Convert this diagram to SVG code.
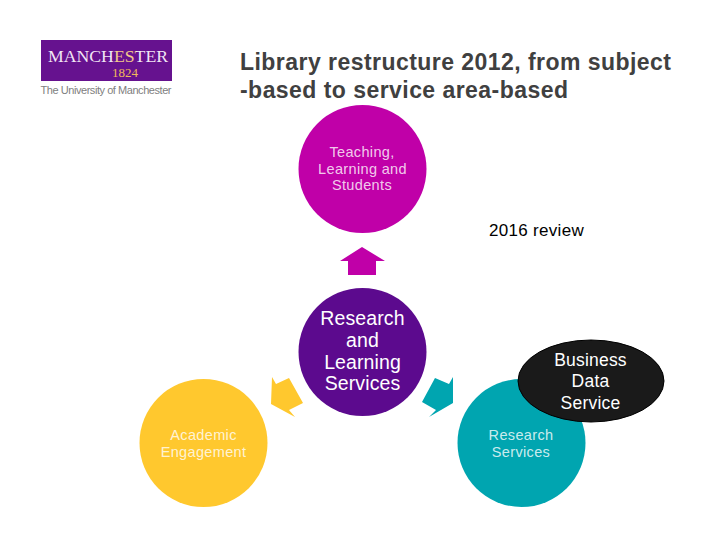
<svg xmlns="http://www.w3.org/2000/svg" width="720" height="540" viewBox="0 0 720 540">
<defs>
<linearGradient id="crest" gradientUnits="userSpaceOnUse" x1="48" y1="0" x2="168" y2="0">
<stop offset="0.56" stop-color="#f1e8f5"/><stop offset="0.56" stop-color="#f3c98a"/>
<stop offset="0.73" stop-color="#f3c98a"/><stop offset="0.73" stop-color="#f1e8f5"/>
</linearGradient>
</defs>
<style>
text{font-family:"Liberation Sans",Arial,sans-serif;text-anchor:middle}
.t{font-size:23px;font-weight:bold;fill:#404040;text-anchor:start}
.s{font-size:14.5px;fill:#fff;fill-opacity:.8;letter-spacing:.35px}
.m{font-size:19.5px;fill:#fff;letter-spacing:.1px}
.b{font-size:17.5px;fill:#fff;letter-spacing:.2px}
.serif{font-family:"Liberation Serif",serif}
</style>
<rect width="720" height="540" fill="#fff"/>
<g id="logo">
<rect x="41" y="40" width="131" height="41" fill="#66128f"/>
<text class="serif" x="108" y="62" font-size="17" fill="url(#crest)" textLength="120" lengthAdjust="spacingAndGlyphs">MANCHESTER</text>
<text class="serif" x="125" y="77" font-size="12.500" fill="#f0b95a" textLength="26" lengthAdjust="spacingAndGlyphs">1824</text>
<text x="106" y="94" font-size="11" fill="#808080" textLength="131">The University of Manchester</text>
</g>
<g id="title">
<text class="t" x="240" y="70" textLength="431">Library restructure 2012, from subject</text>
<text class="t" x="240" y="98" textLength="328">-based to service area-based</text>
</g>
<g id="connectors">
<polygon fill="#c000a8" points="362,247 340,261 348,261 348,275 376,275 376,261 385,261"/>
<polygon fill="#ffc82e" points="272,377 276,384 289,378 303,403 289,410 295,417 271,404"/>
<polygon fill="#00a5b0" points="453,377 449,384 435,378 422,402 436,410 429,417 453,403"/>
</g>
<g id="teaching">
<circle cx="362.500" cy="169" r="64" fill="#c000a8"/>
<text class="s" x="362" y="157">Teaching,</text>
<text class="s" x="362.500" y="174">Learning and</text>
<text class="s" x="362" y="190">Students</text>
</g>
<g id="review"><text x="536.500" y="236" font-size="17" fill="#000" letter-spacing=".3">2016 review</text></g>
<g id="research-learning">
<circle cx="362.500" cy="352" r="64" fill="#5c0a8e"/>
<text class="m" x="362.500" y="325">Research</text>
<text class="m" x="362.500" y="347">and</text>
<text class="m" x="362.500" y="369">Learning</text>
<text class="m" x="362.500" y="390">Services</text>
</g>
<g id="academic">
<circle cx="203.500" cy="443" r="64" fill="#ffc82e"/>
<text class="s" x="203.500" y="440">Academic</text>
<text class="s" x="203.500" y="457">Engagement</text>
</g>
<g id="research-services">
<circle cx="521.500" cy="443" r="64" fill="#00a5b0"/>
<text class="s" x="521" y="440">Research</text>
<text class="s" x="521" y="457">Services</text>
</g>
<g id="business">
<ellipse cx="591" cy="381" rx="73" ry="41" fill="#1a1a1a" stroke="#000" stroke-width="1"/>
<text class="b" x="590.500" y="366">Business</text>
<text class="b" x="590.500" y="387">Data</text>
<text class="b" x="590.500" y="409">Service</text>
</g>
</svg>
